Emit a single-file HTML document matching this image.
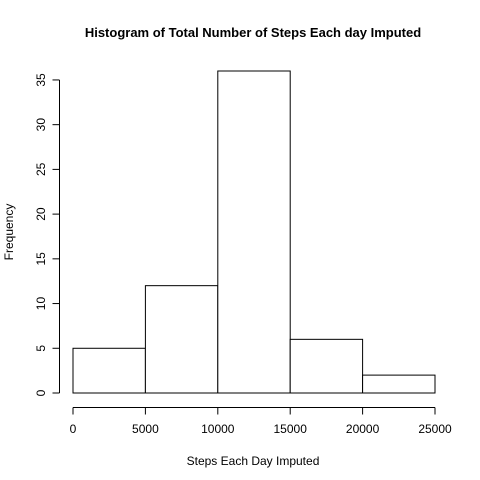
<!DOCTYPE html>
<html><head><meta charset="utf-8"><style>
html,body{margin:0;padding:0;background:#fff;}
svg{display:block;font-family:"Liberation Sans",Arial,sans-serif;}
</style></head><body>
<svg id="chart" width="480" height="480" viewBox="0 0 480 480">
<text x="253" y="37" text-anchor="middle" font-size="13" font-weight="bold">Histogram of Total Number of Steps Each day Imputed</text>
<text x="253" y="465" text-anchor="middle" font-size="12">Steps Each Day Imputed</text>
<text transform="translate(13,232) rotate(-90)" text-anchor="middle" font-size="12">Frequency</text>
<g id="bars"></g>
<g id="xaxis"></g>
<g id="yaxis"></g>
</svg>
<script>
const binEdges = [0, 5000, 10000, 15000, 20000, 25000];
const counts = [5, 12, 36, 6, 2];
const xTicks = [0, 5000, 10000, 15000, 20000, 25000];
const yTicks = [0, 5, 10, 15, 20, 25, 30, 35];

const NS = "http://www.w3.org/2000/svg";
function xs(v){ return 73 + (v - 0) * (435 - 73) / 25000; }
function ys(v){ return 393 - v * (393 - 71) / 36; }
function mk(tag, attrs, parent){
  const e = document.createElementNS(NS, tag);
  for (const k in attrs) e.setAttribute(k, attrs[k]);
  parent.appendChild(e);
  return e;
}
const bars = document.getElementById("bars");
counts.forEach((c, i) => {
  const x0 = xs(binEdges[i]), x1 = xs(binEdges[i+1]);
  const r = mk("rect", {x: x0, y: ys(c), width: x1 - x0, height: ys(0) - ys(c), fill: "#fff", stroke: "#000", "stroke-width": 1}, bars);
  
  
});
const xa = document.getElementById("xaxis");
mk("line", {x1: xs(xTicks[0]), x2: xs(xTicks[xTicks.length-1]), y1: 407.5, y2: 407.5, stroke: "#000"}, xa);
xTicks.forEach(t => {
  mk("line", {x1: xs(t), x2: xs(t), y1: 407.5, y2: 414.5, stroke: "#000"}, xa);
  const tx = mk("text", {x: xs(t), y: 433, "text-anchor": "middle", "font-size": 12}, xa);
  tx.textContent = t;
  
  
});
const ya = document.getElementById("yaxis");
mk("line", {x1: 59.5, x2: 59.5, y1: ys(yTicks[0]), y2: ys(yTicks[yTicks.length-1]), stroke: "#000"}, ya);
yTicks.forEach(t => {
  mk("line", {x1: 52.5, x2: 59.5, y1: ys(t), y2: ys(t), stroke: "#000"}, ya);
  const tx = mk("text", {transform: "translate(45," + ys(t) + ") rotate(-90)", "text-anchor": "middle", "font-size": 12}, ya);
  tx.textContent = t;
  
  
});
</script>
</body></html>
